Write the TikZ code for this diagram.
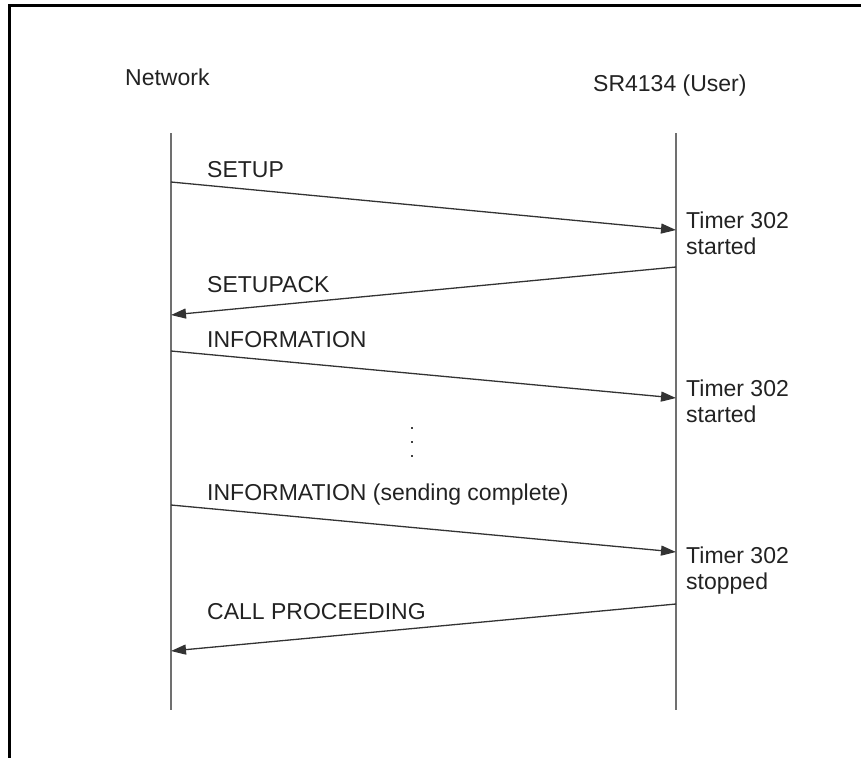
\documentclass[tikz,border=0pt]{standalone}
\usepackage{fontspec}
\setmainfont{Liberation Sans}
\usetikzlibrary{arrows.meta}
\definecolor{ink}{HTML}{222222}
\definecolor{lifegray}{HTML}{707070}
\definecolor{msggray}{HTML}{333333}
\tikzset{
  frame/.style={line width=3pt, black},
  lifeline/.style={line width=1.4pt, lifegray},
  msg/.style={line width=1.3pt, msggray, -{Triangle[length=15pt,width=10pt]}},
  lbl/.style={anchor=base west, inner sep=0pt, text=ink, font=\fontsize{23}{26}\selectfont},
  % multi-line notes: the base anchor sits on the last line
  tmr/.style={anchor=base west, inner sep=0pt, text=ink, align=left, font=\fontsize{23}{26}\selectfont},
  dotmark/.style={fill=black!75, inner sep=0pt, minimum size=2.6pt, rectangle},
}
\begin{document}
\begin{tikzpicture}[x=1pt, y=-1pt]
\useasboundingbox (0,0) rectangle (861,758);

% open frame: top and left edges
\coordinate (fTL) at (9.5,5.5);
\coordinate (fTR) at (861,5.5);
\coordinate (fBL) at (9.5,758);
\draw[frame] (fTR) -- (fTL) -- (fBL);

% column headings
\node[lbl] (hnet) at (125,85) {Network};
\node[lbl] (husr) at (593,91) {SR4134 (User)};

% lifelines
\coordinate (netTop) at (171,133);
\coordinate (netBot) at (171,710);
\coordinate (usrTop) at (676,133);
\coordinate (usrBot) at (676,710);
\draw[lifeline] (netTop) -- (netBot);
\draw[lifeline] (usrTop) -- (usrBot);

% message end points
\coordinate (n1) at (171,182);  \coordinate (u1) at (676,230);
\coordinate (u2) at (676,267);  \coordinate (n2) at (171,315);
\coordinate (n3) at (171,351);  \coordinate (u3) at (676,398);
\coordinate (n4) at (171,505);  \coordinate (u4) at (676,552);
\coordinate (u5) at (676,604);  \coordinate (n5) at (171,651);

% messages
\draw[msg] (n1) -- (u1);
\draw[msg] (u2) -- (n2);
\draw[msg] (n3) -- (u3);
\draw[msg] (n4) -- (u4);
\draw[msg] (u5) -- (n5);

% message labels
\node[lbl] (m1) at (207,177) {SETUP};
\node[lbl] (m2) at (207,292) {SETUPACK};
\node[lbl] (m3) at (207,347) {INFORMATION};
\node[lbl] (m4) at (207,500) {INFORMATION (sending complete)};
\node[lbl] (m5) at (207,619) {CALL PROCEEDING};

% timer notes
\node[tmr] (t1) at (686,254) {Timer 302\\started};
\node[tmr] (t2) at (686,422) {Timer 302\\started};
\node[tmr] (t3) at (686,589) {Timer 302\\stopped};

% vertical ellipsis
\node[dotmark] (d1) at (412,428) {};
\node[dotmark] (d2) at (412,442) {};
\node[dotmark] (d3) at (412,456) {};
\end{tikzpicture}
\end{document}
